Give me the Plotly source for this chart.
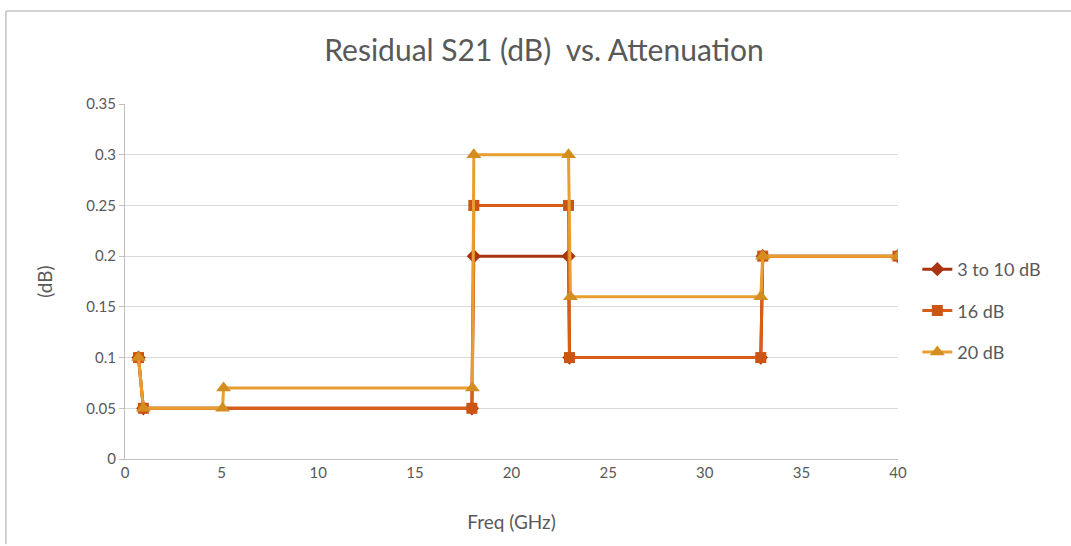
import plotly.graph_objects as go

# Step-wise residual S21 readings per attenuation setting
freq_3to10 = [0.7, 0.95, 17.95, 18.05, 22.95, 23.0, 32.9, 33.0, 40]
s21_3to10 = [0.10, 0.05, 0.05, 0.20, 0.20, 0.10, 0.10, 0.20, 0.20]

freq_16 = [0.7, 0.95, 17.95, 18.05, 22.95, 23.0, 32.9, 33.0, 40]
s21_16 = [0.10, 0.05, 0.05, 0.25, 0.25, 0.10, 0.10, 0.20, 0.20]

freq_20 = [0.7, 0.95, 5.05, 5.1, 17.98, 18.05, 22.95, 23.05, 32.9, 33.0, 40]
s21_20 = [0.10, 0.05, 0.05, 0.07, 0.07, 0.30, 0.30, 0.16, 0.16, 0.20, 0.20]

series_names = ["3 to 10 dB", "16 dB", "20 dB"]
x_ticks = [0, 5, 10, 15, 20, 25, 30, 35, 40]
y_ticks = [0, 0.05, 0.1, 0.15, 0.2, 0.25, 0.3, 0.35]
y_tick_text = ["0", "0.05", "0.1", "0.15", "0.2", "0.25", "0.3", "0.35"]

FONT = "Lato"
TXT = "#595959"

fig = go.Figure()
fig.add_trace(go.Scatter(
    x=freq_3to10, y=s21_3to10, name=series_names[0], mode="lines+markers",
    legendgroup="a",
    line=dict(color="#A8350F", width=3),
    marker=dict(symbol="diamond", size=11, color="#A8350F"),
))
fig.add_trace(go.Scatter(
    x=freq_16, y=s21_16, name=series_names[1], mode="lines+markers",
    legendgroup="b",
    line=dict(color="#D85E17", width=3),
    marker=dict(symbol="square", size=11, color="#CC5514"),
))
fig.add_trace(go.Scatter(
    x=freq_20, y=s21_20, name=series_names[2], mode="lines+markers",
    legendgroup="c",
    line=dict(color="#E89E30", width=3),
    marker=dict(symbol="triangle-up", size=13, color="#D48D1F"),
))

fig.update_layout(
    width=1071, height=546,
    margin=dict(l=125, r=173, t=104, b=87),
    paper_bgcolor="white", plot_bgcolor="white",
    font=dict(family=FONT, color=TXT, size=15),
    title=dict(text="Residual S21 (dB)  vs. Attenuation", x=0.508, xref="container",
               xanchor="center", y=0.907, yref="container", yanchor="middle",
               font=dict(family=FONT, size=30, color=TXT)),
    legend=dict(x=1.025, y=0.417, xanchor="left", yanchor="middle",
                traceorder="grouped", tracegroupgap=15,
                font=dict(family=FONT, size=18, color=TXT),
                bgcolor="rgba(0,0,0,0)"),
    xaxis=dict(range=[0, 40], tickvals=x_ticks, showgrid=False,
               showline=True, linecolor="#BFBFBF", linewidth=1,
               ticks="", tickfont=dict(size=15, color=TXT), zeroline=False,
               title=dict(text="Freq (GHz)", font=dict(size=19, color=TXT), standoff=35)),
    yaxis=dict(range=[0, 0.35], tickvals=y_ticks, ticktext=y_tick_text,
               showgrid=True, gridcolor="#D9D9D9", gridwidth=1,
               showline=True, linecolor="#BFBFBF", linewidth=1,
               ticks="outside", ticklen=5, tickcolor="#BFBFBF",
               tickfont=dict(size=15, color=TXT), zeroline=False,
               title=dict(text="(dB)", font=dict(size=19, color=TXT), standoff=28)),
)

# Chart-area frame along the left and top edges
fig.add_shape(type="line", xref="paper", yref="paper",
              x0=-0.154, x1=-0.154, y0=-0.24, y1=1.262,
              line=dict(color="#A6A6A6", width=1))
fig.add_shape(type="line", xref="paper", yref="paper",
              x0=-0.154, x1=1.3, y0=1.262, y1=1.262,
              line=dict(color="#A6A6A6", width=1))

fig.write_html("out.html")
